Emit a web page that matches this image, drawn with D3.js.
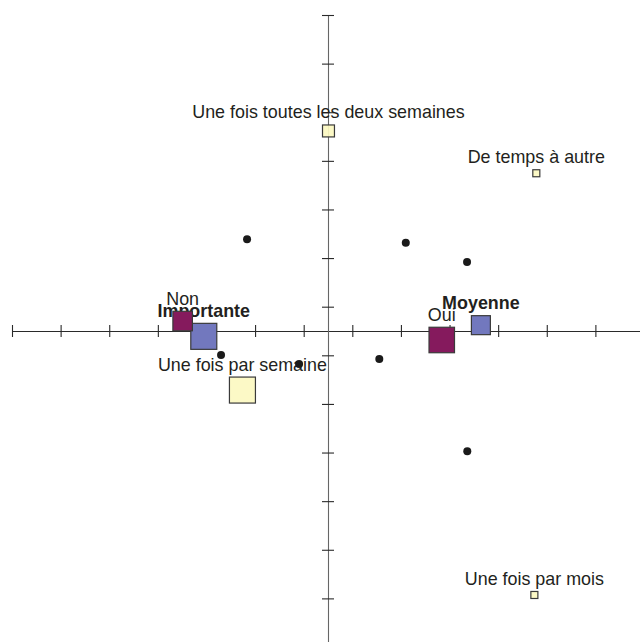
<!DOCTYPE html>
<html>
<head>
<meta charset="utf-8">
<script src="https://cdn.jsdelivr.net/npm/d3@7"></script>
<style>
  html, body { margin: 0; padding: 0; background: #fff; }
  svg { display: block; }
  text { font-family: "Liberation Sans", Arial, Helvetica, sans-serif; fill: #231F20; }
</style>
</head>
<body>
<svg id="chart" width="640" height="642"></svg>
<script>
// ---- data ----
const modalityLabels = ["Importante", "Une fois par semaine", "Oui", "Non", "Moyenne",
                        "Une fois toutes les deux semaines", "De temps à autre", "Une fois par mois"];
const modalityGroup  = ["importance", "frequence", "reponse", "reponse", "importance",
                        "frequence", "frequence", "frequence"];
const modalityX      = [-0.511, -0.352, 0.468, -0.598, 0.629, 0.002, 0.857, 0.849];
const modalityY      = [-0.022, -0.243, -0.037, 0.041, 0.024, 0.823, 0.649, -1.086];
const modalityWeight = [1.00, 1.00, 0.98, 0.75, 0.73, 0.46, 0.27, 0.27];
const boldLabels     = ["Importante", "Moyenne"];

const individualX = [-0.333, 0.320, 0.572, 0.573, -0.440, -0.119, 0.211];
const individualY = [0.377, 0.363, 0.284, -0.495, -0.099, -0.136, -0.115];

const axisTicks = [-1.3, -1.1, -0.9, -0.7, -0.5, -0.3, -0.1, 0.1, 0.3, 0.5, 0.7, 0.9, 1.1, 1.3];

// ---- scales ----
const x = d3.scaleLinear().domain([-1.3, 1.3]).range([12, 644]);
const y = d3.scaleLinear().domain([-1.3, 1.3]).range([647, 15]);
const size = d3.scaleLinear().domain([0, 1]).range([0, 26]);
const color = d3.scaleOrdinal()
  .domain(["importance", "frequence", "reponse"])
  .range(["#7278BE", "#FCF9C1", "#851A5D"]);

const svg = d3.select("#chart");

// ---- axes ----
const gx = svg.append("g").attr("transform", `translate(0,${y(0)})`)
  .call(d3.axisBottom(x).tickValues(axisTicks).tickFormat("").tickSize(0).tickSizeOuter(0));
gx.select(".domain").attr("stroke", "#2a2a2a").attr("stroke-width", 1.1);
gx.selectAll(".tick line").attr("y1", -6).attr("y2", 6).attr("stroke", "#2a2a2a").attr("stroke-width", 1.1);

const gy = svg.append("g").attr("transform", `translate(${x(0)},0)`)
  .call(d3.axisLeft(y).tickValues(axisTicks).tickFormat("").tickSize(0).tickSizeOuter(0));
gy.select(".domain").attr("stroke", "#666").attr("stroke-width", 1.1);
gy.selectAll(".tick line").attr("x1", -6).attr("x2", 6).attr("stroke", "#2a2a2a").attr("stroke-width", 1.1);

// ---- modalities ----
const mods = modalityLabels.map((label, i) => ({
  label, group: modalityGroup[i], x: modalityX[i], y: modalityY[i], w: modalityWeight[i]
}));

// labels first (squares drawn over them)
svg.append("g").selectAll("text").data(mods).join("text")
  .attr("x", d => x(d.x))
  .attr("y", d => y(d.y) - size(d.w) / 2 - 6.5)
  .attr("text-anchor", "middle")
  .attr("font-size", 17.9)
  .attr("font-weight", d => boldLabels.includes(d.label) ? "bold" : "normal")
  .text(d => d.label);

svg.append("g").selectAll("rect").data(mods).join("rect")
  .attr("x", d => x(d.x) - size(d.w) / 2)
  .attr("y", d => y(d.y) - size(d.w) / 2)
  .attr("width", d => size(d.w))
  .attr("height", d => size(d.w))
  .attr("fill", d => color(d.group))
  .attr("fill-opacity", d => d.group === "frequence" ? 0.92 : 1)
  .attr("stroke", "#3a3a3a")
  .attr("stroke-width", 1.2);

// ---- individuals ----
svg.append("g").selectAll("circle").data(individualX.map((v, i) => ({x: v, y: individualY[i]})))
  .join("circle")
  .attr("cx", d => x(d.x))
  .attr("cy", d => y(d.y))
  .attr("r", 4)
  .attr("fill", "#1a1a1a");
</script>
</body>
</html>
